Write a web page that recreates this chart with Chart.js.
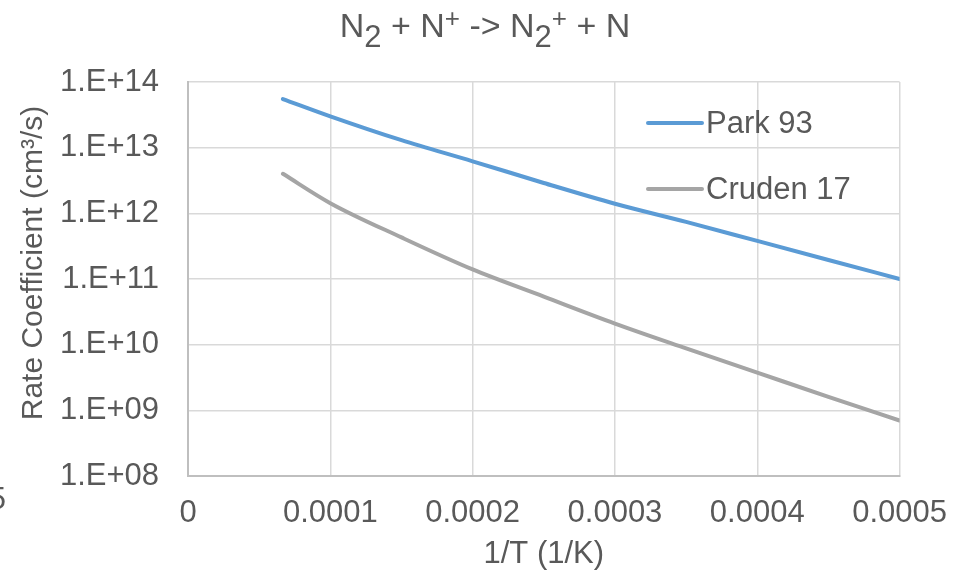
<!DOCTYPE html>
<html>
<head>
<meta charset="utf-8">
<script src="https://cdn.jsdelivr.net/npm/chart.js@4.4.1/dist/chart.umd.min.js"></script>
<style>
  html, body { margin: 0; padding: 0; background: #ffffff; }
  #wrap { width: 966px; height: 575px; }
</style>
</head>
<body>
<div id="wrap"><canvas id="c" width="966" height="575"></canvas></div>
<script>
// Inverse temperature (1/K)
const invT = [0.0000667, 0.0001, 0.00015, 0.0002, 0.00025, 0.0003, 0.00035, 0.0004, 0.00045, 0.0005];
// Rate coefficients (cm^3/s)
const park93 = [5.5e13, 3.0e13, 1.3e13, 6.2e12, 2.9e12, 1.4e12, 7.4e11, 3.8e11, 1.95e11, 1.0e11];
const cruden17 = [4.0e12, 1.43e12, 4.3e11, 1.4e11, 5.4e10, 2.1e10, 8.8e9, 3.76e9, 1.6e9, 7.0e8];
const seriesNames = ['Park 93', 'Cruden 17'];
const yTicks = [1e8, 1e9, 1e10, 1e11, 1e12, 1e13, 1e14];
const yTickLabels = ['1.E+08', '1.E+09', '1.E+10', '1.E+11', '1.E+12', '1.E+13', '1.E+14'];
const xTicks = [0, 0.0001, 0.0002, 0.0003, 0.0004, 0.0005];
const xTickLabels = ['0', '0.0001', '0.0002', '0.0003', '0.0004', '0.0005'];
// Title pieces: [text, kind] where kind is normal, sub or sup
const titleParts = [['N', 'n'], ['2', 'sub'], [' + N', 'n'], ['+', 'sup'], [' -> N', 'n'], ['2', 'sub'], ['+', 'sup'], [' + N', 'n']];
const yTitle = 'Rate Coefficient (cm\u00B3/s)';
const xTitle = '1/T (1/K)';

const FONT = '"Liberation Sans", Arial, sans-serif';
const TEXT = '#595959';
const FS = 31;

const toPoints = (ys) => invT.map((x, i) => ({ x: x, y: ys[i] }));

// Rich title with sub/superscripts, rotated y title, in-plot legend
const decorPlugin = {
  id: 'decor',
  afterDraw(chart) {
    const ctx = chart.ctx;
    ctx.save();
    ctx.fillStyle = TEXT;
    ctx.textBaseline = 'alphabetic';
    ctx.textAlign = 'left';
    const styles = {
      n: { size: 34, dy: 0 },
      sub: { size: 31, dy: 10 },
      sup: { size: 26, dy: -10 }
    };
    let total = 0;
    titleParts.forEach(([t, k]) => {
      ctx.font = styles[k].size + 'px ' + FONT;
      total += ctx.measureText(t).width;
    });
    let x = 485 - total / 2;
    const base = 37;
    titleParts.forEach(([t, k]) => {
      ctx.font = styles[k].size + 'px ' + FONT;
      ctx.fillText(t, x, base + styles[k].dy);
      x += ctx.measureText(t).width;
    });

    // y axis title
    ctx.font = '30px ' + FONT;
    ctx.save();
    ctx.translate(34, 263);
    ctx.rotate(-Math.PI / 2);
    ctx.textAlign = 'center';
    ctx.textBaseline = 'middle';
    ctx.fillText(yTitle, 0, 0);
    ctx.restore();

    // stray glyph at the left edge
    ctx.font = FS + 'px ' + FONT;
    ctx.textAlign = 'right';
    ctx.fillText('5', 6, 509);

    // legend
    const rows = [123, 189];
    chart.data.datasets.forEach((ds, i) => {
      const y = rows[i];
      ctx.strokeStyle = ds.borderColor;
      ctx.lineWidth = 4;
      ctx.lineCap = 'round';
      ctx.beginPath();
      ctx.moveTo(648, y);
      ctx.lineTo(702, y);
      ctx.stroke();
      ctx.textAlign = 'left';
      ctx.textBaseline = 'middle';
      ctx.fillStyle = TEXT;
      ctx.fillText(ds.label, 706, y + 1);
    });
    ctx.restore();
  }
};

new Chart(document.getElementById('c'), {
  type: 'line',
  data: {
    datasets: [
      { label: seriesNames[0], data: toPoints(park93), borderColor: '#5b9bd5', backgroundColor: '#5b9bd5' },
      { label: seriesNames[1], data: toPoints(cruden17), borderColor: '#a5a5a5', backgroundColor: '#a5a5a5' }
    ]
  },
  options: {
    responsive: false,
    animation: false,
    devicePixelRatio: 1,
    layout: { padding: { top: 82, right: 63, left: 0, bottom: 0 } },
    elements: {
      point: { radius: 0, hoverRadius: 0 },
      line: { borderWidth: 4, cubicInterpolationMode: 'monotone', borderCapStyle: 'round' }
    },
    plugins: {
      legend: { display: false },
      title: { display: false },
      tooltip: { enabled: false }
    },
    scales: {
      x: {
        type: 'linear',
        min: 0,
        max: 0.0005,
        afterBuildTicks: (s) => { s.ticks = xTicks.map(v => ({ value: v })); },
        afterFit: (s) => { s.height = 99; },
        ticks: {
          color: TEXT,
          font: { family: FONT, size: FS },
          padding: 19,
          maxRotation: 0,
          autoSkip: false,
          callback: (v, i) => xTickLabels[i]
        },
        grid: {
          color: (c) => (c.tick && c.tick.value === 0) ? 'rgba(0,0,0,0)' : '#d9d9d9',
          lineWidth: 1.5,
          drawTicks: false
        },
        border: { display: true, color: '#bfbfbf', width: 2 },
        title: {
          display: true,
          text: xTitle,
          color: TEXT,
          font: { family: FONT, size: FS },
          padding: { top: 0, bottom: 2 }
        }
      },
      y: {
        type: 'logarithmic',
        min: 1e8,
        max: 1e14,
        afterBuildTicks: (s) => { s.ticks = yTicks.map(v => ({ value: v, major: true })); },
        afterFit: (s) => { s.width = 188; },
        ticks: {
          color: TEXT,
          font: { family: FONT, size: FS },
          padding: 29,
          autoSkip: false,
          callback: (v, i) => yTickLabels[i]
        },
        grid: {
          color: (c) => (c.tick && c.tick.value === 1e8) ? 'rgba(0,0,0,0)' : '#d9d9d9',
          lineWidth: 1.5,
          drawTicks: false
        },
        border: { display: true, color: '#bfbfbf', width: 2 }
      }
    }
  },
  plugins: [decorPlugin]
});
</script>
</body>
</html>
